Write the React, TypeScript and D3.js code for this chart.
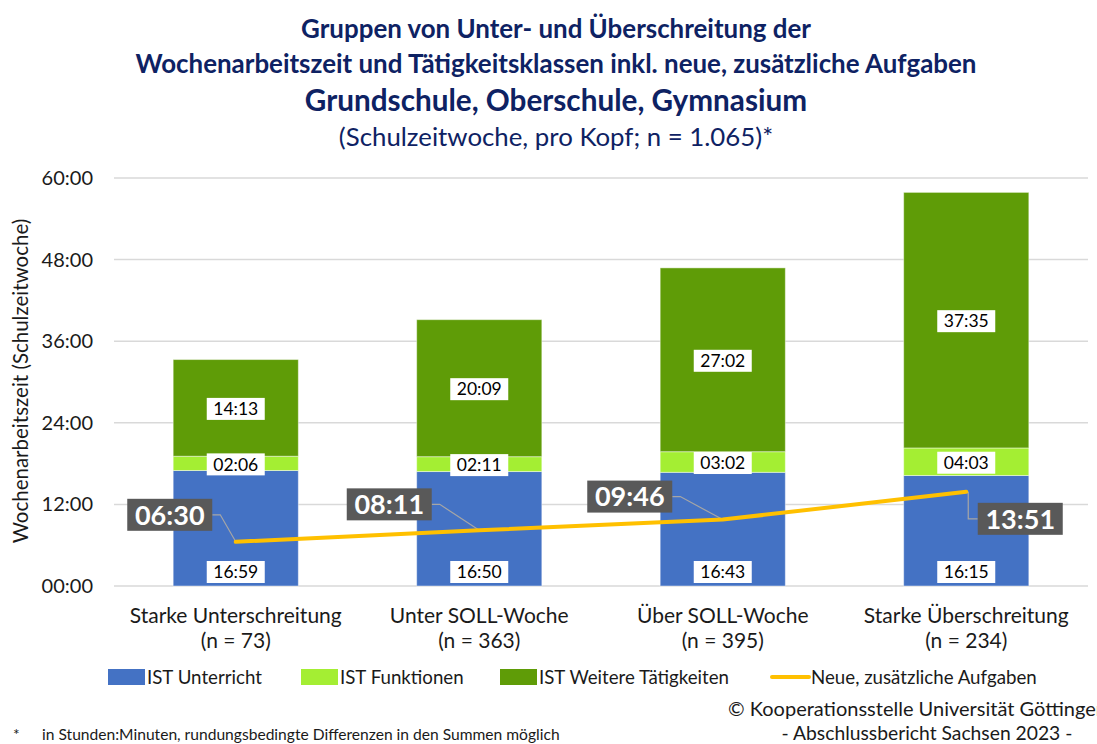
import { useEffect, useRef } from 'react';
import * as d3 from 'd3';

// Gruppen (Kategorien)
const categories = ["Starke Unterschreitung", "Unter SOLL-Woche", "Über SOLL-Woche", "Starke Überschreitung"];
const groupN = ["(n = 73)", "(n = 363)", "(n = 395)", "(n = 234)"];

// Werte in Stunden:Minuten
const istUnterricht = ["16:59", "16:50", "16:43", "16:15"];
const istFunktionen = ["02:06", "02:11", "03:02", "04:03"];
const istWeitere = ["14:13", "20:09", "27:02", "37:35"];
const neueAufgaben = ["06:30", "08:11", "09:46", "13:51"];

const yTicks = [0, 12, 24, 36, 48, 60];

const seriesNames = ["IST Unterricht", "IST Funktionen", "IST Weitere Tätigkeiten"];
const seriesColors = ["#4472C4", "#A4EE33", "#5F9C07"];
const lineName = "Neue, zusätzliche Aufgaben";
const lineColor = "#FFC000";

const toHours = (s: string) => {
  const [h, m] = s.split(":").map(Number);
  return h + m / 60;
};
const fmtTick = (h: number) => `${String(h).padStart(2, "0")}:00`;

const FONT = "Lato, 'Open Sans', sans-serif";

function App() {
  const svgRef = useRef<SVGSVGElement>(null);

  useEffect(() => {
    const width = 1097;
    const height = 744;
    const margin = { top: 178, right: 9, bottom: 158, left: 114 };
    const innerWidth = width - margin.left - margin.right;
    const innerHeight = height - margin.top - margin.bottom;

    const svg = d3.select(svgRef.current);
    svg.selectAll("*").remove();
    svg.attr("width", width).attr("height", height);

    // Titel
    const titleColor = "#0E2263";
    const titles = [
      { t: "Gruppen von Unter- und Überschreitung der", y: 38, size: 25.9, w: "bold" },
      { t: "Wochenarbeitszeit und Tätigkeitsklassen inkl. neue, zusätzliche Aufgaben", y: 73, size: 25.9, w: "bold" },
      { t: "Grundschule, Oberschule, Gymnasium", y: 111, size: 29.7, w: "bold" },
      { t: "(Schulzeitwoche, pro Kopf; n = 1.065)*", y: 146, size: 25.8, w: "normal" },
    ];
    titles.forEach(d => {
      svg.append("text")
        .attr("x", 556)
        .attr("y", d.y)
        .attr("text-anchor", "middle")
        .attr("fill", titleColor)
        .style("font-family", FONT)
        .style("font-size", `${d.size}px`)
        .style("font-weight", d.w)
        .text(d.t);
    });

    const g = svg.append("g")
      .attr("transform", `translate(${margin.left},${margin.top})`);

    const x = d3.scaleBand()
      .domain(categories)
      .range([0, innerWidth])
      .paddingInner(0.486)
      .paddingOuter(0.243);

    const y = d3.scaleLinear()
      .domain([0, 60])
      .range([innerHeight, 0]);

    // Gitterlinien
    g.selectAll(".grid")
      .data(yTicks)
      .join("line")
      .attr("x1", 0)
      .attr("x2", innerWidth)
      .attr("y1", d => y(d))
      .attr("y2", d => y(d))
      .attr("stroke", "#D9D9D9")
      .attr("stroke-width", 1.5);

    // Y-Achse Beschriftung
    g.selectAll(".ytick")
      .data(yTicks)
      .join("text")
      .attr("x", -21)
      .attr("y", d => y(d))
      .attr("dy", "0.35em")
      .attr("text-anchor", "end")
      .attr("fill", "#1a1a1a")
      .style("font-family", FONT)
      .style("font-size", "20px")
      .text(d => fmtTick(d));

    svg.append("text")
      .attr("transform", `translate(28, 381) rotate(-90)`)
      .attr("text-anchor", "middle")
      .attr("fill", "#1a1a1a")
      .style("font-family", FONT)
      .style("font-size", "20.5px")
      .text("Wochenarbeitszeit (Schulzeitwoche)");

    // Gestapelte Daten
    const table = categories.map((c, i) => ({
      cat: c,
      unterricht: toHours(istUnterricht[i]),
      funktionen: toHours(istFunktionen[i]),
      weitere: toHours(istWeitere[i]),
      labels: [istUnterricht[i], istFunktionen[i], istWeitere[i]],
    }));
    const keys = ["unterricht", "funktionen", "weitere"];
    const stacked = d3.stack<any>().keys(keys)(table);

    stacked.forEach((layer, k) => {
      g.selectAll(`.bar-${k}`)
        .data(layer)
        .join("rect")
        .attr("x", d => x(d.data.cat)!)
        .attr("width", x.bandwidth())
        .attr("y", d => y(d[1]))
        .attr("height", d => y(d[0]) - y(d[1]))
        .attr("fill", seriesColors[k])
        .attr("stroke", "rgba(255,255,255,0.45)")
        .attr("stroke-width", 1);
    });

    // Datenbeschriftungen der Balken
    const boxW = 58;
    const boxH = 22;
    stacked.forEach((layer, k) => {
      layer.forEach(d => {
        const cx = x(d.data.cat)! + x.bandwidth() / 2;
        const cy = k === 0 ? y(d[0]) - 14 : (y(d[0]) + y(d[1])) / 2 + 1;
        const lg = g.append("g").attr("transform", `translate(${cx},${cy})`);
        lg.append("rect")
          .attr("x", -boxW / 2)
          .attr("y", -boxH / 2)
          .attr("width", boxW)
          .attr("height", boxH)
          .attr("fill", "#ffffff");
        lg.append("text")
          .attr("text-anchor", "middle")
          .attr("dy", "0.36em")
          .attr("fill", "#000")
          .style("font-family", FONT)
          .style("font-size", "17.5px")
          .text(d.data.labels[k]);
      });
    });

    // Linie: Neue, zusätzliche Aufgaben
    const linePts = categories.map((c, i) => ({
      x: x(c)! + x.bandwidth() / 2,
      y: y(toHours(neueAufgaben[i])),
      label: neueAufgaben[i],
    }));

    // Label-Versatz relativ zum Punkt (Box-Mittelpunkt)
    const labelOffsets = [
      { dx: -66, dy: -27, side: "left" },
      { dx: -90, dy: -26, side: "left" },
      { dx: -93, dy: -23, side: "left" },
      { dx: 54, dy: 27, side: "right" },
    ];
    const lbW = 85;
    const lbH = 32;

    // Führungslinien
    linePts.forEach((p, i) => {
      const o = labelOffsets[i];
      const bx = p.x + o.dx;
      const by = p.y + o.dy;
      let path: [number, number][];
      if (o.side === "left") {
        const ex = bx + lbW / 2;
        path = [[ex, by], [ex + 8, by], [p.x, p.y]];
      } else {
        const ex = bx - lbW / 2;
        path = [[p.x + 2, p.y], [p.x + 2, by], [ex, by]];
      }
      g.append("path")
        .attr("d", d3.line()(path))
        .attr("fill", "none")
        .attr("stroke", "#A6A6A6")
        .attr("stroke-width", 1.2);
    });

    g.append("path")
      .datum(linePts)
      .attr("fill", "none")
      .attr("stroke", lineColor)
      .attr("stroke-width", 4)
      .attr("stroke-linecap", "round")
      .attr("d", d3.line<any>().x(d => d.x).y(d => d.y));

    linePts.forEach((p, i) => {
      const o = labelOffsets[i];
      const bx = p.x + o.dx;
      const by = p.y + o.dy;
      g.append("rect")
        .attr("x", bx - lbW / 2)
        .attr("y", by - lbH / 2)
        .attr("width", lbW)
        .attr("height", lbH)
        .attr("fill", "#595959");
      g.append("text")
        .attr("x", bx)
        .attr("y", by)
        .attr("dy", "0.36em")
        .attr("text-anchor", "middle")
        .attr("fill", "#ffffff")
        .style("font-family", FONT)
        .style("font-size", "27px")
        .style("font-weight", "bold")
        .text(p.label);
    });

    // Kategorienbeschriftung
    categories.forEach((c, i) => {
      const cx = x(c)! + x.bandwidth() / 2;
      g.append("text")
        .attr("x", cx)
        .attr("y", innerHeight + 37)
        .attr("text-anchor", "middle")
        .attr("fill", "#1a1a1a")
        .style("font-family", FONT)
        .style("font-size", "21px")
        .text(c);
      g.append("text")
        .attr("x", cx)
        .attr("y", innerHeight + 62)
        .attr("text-anchor", "middle")
        .attr("fill", "#1a1a1a")
        .style("font-family", FONT)
        .style("font-size", "21px")
        .text(groupN[i]);
    });

    // Legende
    const legendItems = [
      { label: seriesNames[0], color: seriesColors[0], type: "rect", x: 108 },
      { label: seriesNames[1], color: seriesColors[1], type: "rect", x: 301 },
      { label: seriesNames[2], color: seriesColors[2], type: "rect", x: 500 },
      { label: lineName, color: lineColor, type: "line", x: 772 },
    ];
    const ly = 677;
    legendItems.forEach(item => {
      if (item.type === "rect") {
        svg.append("rect")
          .attr("x", item.x)
          .attr("y", ly - 8)
          .attr("width", 37)
          .attr("height", 16)
          .attr("fill", item.color);
      } else {
        svg.append("line")
          .attr("x1", item.x)
          .attr("x2", item.x + 37)
          .attr("y1", ly)
          .attr("y2", ly)
          .attr("stroke", item.color)
          .attr("stroke-width", 4)
          .attr("stroke-linecap", "round");
      }
      svg.append("text")
        .attr("x", item.x + 39)
        .attr("y", ly)
        .attr("dy", "0.35em")
        .attr("fill", "#1a1a1a")
        .style("font-family", FONT)
        .style("font-size", "18.7px")
        .text(item.label);
    });

    // Fußzeilen
    svg.append("text")
      .attr("x", 728)
      .attr("y", 716)
      .attr("fill", "#1a1a1a")
      .style("font-family", FONT)
      .style("font-size", "20px")
      .text("© Kooperationsstelle Universität Göttingen");
    svg.append("text")
      .attr("x", 927)
      .attr("y", 740)
      .attr("text-anchor", "middle")
      .attr("fill", "#1a1a1a")
      .style("font-family", FONT)
      .style("font-size", "19.3px")
      .text("- Abschlussbericht Sachsen 2023 -");
    svg.append("text")
      .attr("x", 13)
      .attr("y", 740)
      .attr("fill", "#1a1a1a")
      .style("font-family", FONT)
      .style("font-size", "15.6px")
      .text("*");
    svg.append("text")
      .attr("x", 42)
      .attr("y", 740)
      .attr("fill", "#1a1a1a")
      .style("font-family", FONT)
      .style("font-size", "15.6px")
      .text("in Stunden:Minuten, rundungsbedingte Differenzen in den Summen möglich");
  }, []);

  return (
    <svg
      ref={svgRef}
      style={{ position: "fixed", top: 0, left: 0, background: "#ffffff", overflow: "hidden" }}
    />
  );
}

export default App;
